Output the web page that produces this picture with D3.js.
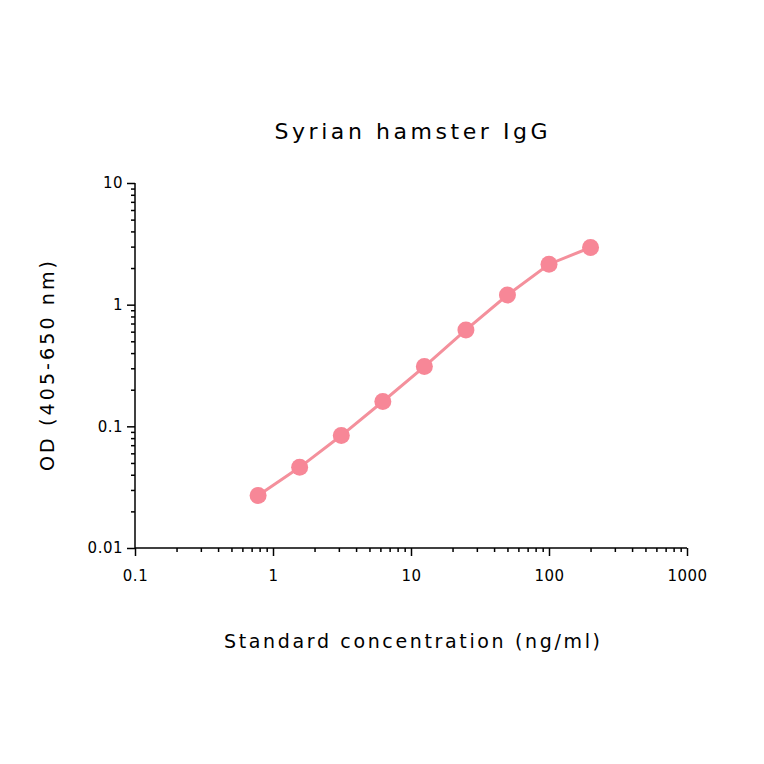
<!DOCTYPE html><html><head><meta charset="utf-8"><script src="https://cdn.jsdelivr.net/npm/d3@7"></script>
<style>body{margin:0;background:#fff}text{font-family:"DejaVu Sans",sans-serif}</style></head><body>
<svg id="c" width="764" height="764"></svg>
<script>
const conc=[0.78,1.56,3.125,6.25,12.5,25,50,100,200];
const od=[0.027,0.046,0.084,0.16,0.31,0.62,1.2,2.15,2.95];
const xTicks=[0.1,1,10,100,1000];
const yTicks=[0.01,0.1,1,10];
const svg=d3.select("#c");
const x=d3.scaleLog().domain([0.1,1000]).range([135,687]);
const y=d3.scaleLog().domain([0.01,10]).range([548,183]);
const minor=(d)=>{const a=[];for(let e=d[0];e<d[1];e*=10)for(let k=2;k<10;k++)a.push(e*k);return a;};
const fmt=d=>String(d);
const xa=svg.append("g").attr("transform","translate(0,548)").call(d3.axisBottom(x).tickValues(xTicks).tickFormat(fmt).tickSize(8).tickPadding(14));
svg.append("g").attr("transform","translate(0,548)").call(d3.axisBottom(x).tickValues(minor([0.1,1000])).tickFormat("").tickSize(4)).select(".domain").remove();
const ya=svg.append("g").attr("transform","translate(135,0)").call(d3.axisLeft(y).tickValues(yTicks).tickFormat(fmt).tickSize(8).tickPadding(4));
svg.append("g").attr("transform","translate(135,0)").call(d3.axisLeft(y).tickValues(minor([0.01,10])).tickFormat("").tickSize(4)).select(".domain").remove();
svg.selectAll(".domain").attr("stroke","#000").attr("stroke-width",1.5);
svg.selectAll(".tick line").attr("stroke-width",1.5);
svg.selectAll(".tick text").attr("font-size",15).attr("fill","#000").attr("font-family","DejaVu Sans").attr("letter-spacing",0.5);
xa.select(".domain").attr("d","M135,0H687");
ya.select(".domain").attr("d","M0,183V548");
const pts=conc.map((c,i)=>[c,od[i]]);
svg.append("path").datum(pts).attr("fill","none").attr("stroke","#f4909c").attr("stroke-width",3)
 .attr("d",d3.line().x(d=>x(d[0])).y(d=>y(d[1])));
svg.selectAll("circle").data(pts).join("circle").attr("cx",d=>x(d[0])).attr("cy",d=>y(d[1])).attr("r",8.5).attr("fill","#f78797");
svg.append("text").attr("x",411).attr("y",139).attr("text-anchor","middle").attr("font-size",22).attr("textLength",273).attr("lengthAdjust","spacing").text("Syrian hamster IgG");
svg.append("text").attr("x",412).attr("y",648).attr("text-anchor","middle").attr("font-size",19).attr("textLength",376).attr("lengthAdjust","spacing").text("Standard concentration (ng/ml)");
svg.append("text").attr("transform","translate(54,366) rotate(-90)").attr("text-anchor","middle").attr("font-size",19).attr("textLength",210).attr("lengthAdjust","spacing").text("OD (405-650 nm)");
</script></body></html>
